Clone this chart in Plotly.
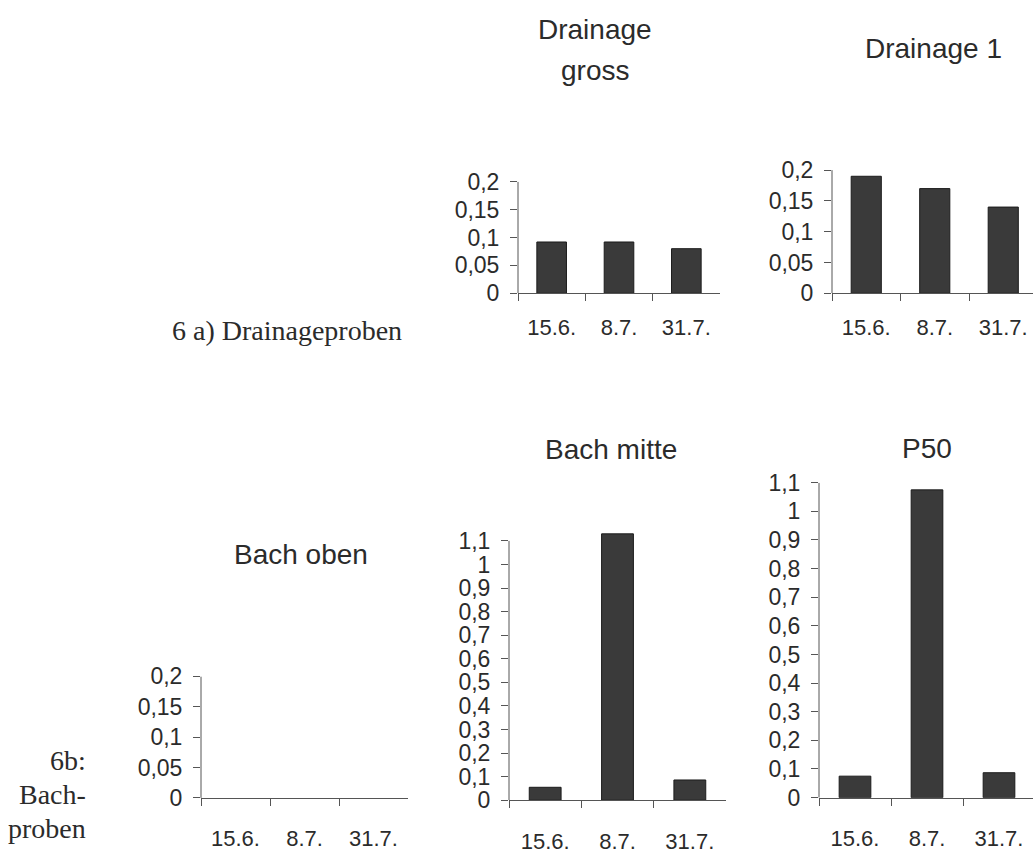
import plotly.graph_objects as go

W, H = 1033, 863

# ---- data ----
dates = ["15.6.", "8.7.", "31.7."]
drainage_gross = [0.092, 0.092, 0.080]
drainage_1 = [0.19, 0.17, 0.14]
bach_oben = [None, None, None]
bach_mitte = [0.055, 1.13, 0.086]
p50 = [0.075, 1.075, 0.087]

ticks_small = [0, 0.05, 0.1, 0.15, 0.2]
labels_small = ["0", "0,05", "0,1", "0,15", "0,2"]
ticks_large = [0, 0.1, 0.2, 0.3, 0.4, 0.5, 0.6, 0.7, 0.8, 0.9, 1.0, 1.1]
labels_large = ["0", "0,1", "0,2", "0,3", "0,4", "0,5", "0,6", "0,7", "0,8", "0,9", "1", "1,1"]

titles = ["Drainage", "gross", "Drainage 1", "Bach oben", "Bach mitte", "P50"]
side_a = "6 a) Drainageproben"
side_b = ["6b:", "Bach-", "proben"]

SANS = "Liberation Sans, Arial, sans-serif"
SERIF = "Liberation Serif, Times New Roman, serif"
TXT = "#2b2b2b"
AX = "#555555"
BAR_FILL = "#3a3a3a"
BAR_LINE = "#1c1c1c"


def px_x(v):
    return v / W


def px_y(v):
    return 1 - v / H


# panels: values, ticks, labels, x0px, x1px, y-of-axis-top px, y-of-zero px,
#         axis top value, range top value, x range end, x label standoff
panels = [
    (drainage_gross, ticks_small, labels_small, 518, 720, 174, 289, 0.2, 0.2, 2.5, 14),
    (drainage_1, ticks_small, labels_small, 832, 1033, 162, 289, 0.2, 0.2, -0.5 + 201 / 68.5, 14),
    (bach_oben, ticks_small, labels_small, 201, 408, 684, 809.3, 0.2, 0.2, 2.5, 21),
    (bach_mitte, ticks_large, labels_large, 509, 726, 544.3, 811.7, 1.1, 1.15, 2.5, 21),
    (p50, ticks_large, labels_large, 819, 1033, 484.3, 809, 1.1, 1.1, -0.5 + 214 / 72, 21),
]

fig = go.Figure()
layout = dict(
    width=W, height=H,
    margin=dict(l=0, r=0, t=0, b=0),
    paper_bgcolor="white", plot_bgcolor="white",
    showlegend=False,
    font=dict(family=SANS, color=TXT),
)
shapes = []

for i, (vals, tv, tt, x0, x1, yt, yb, axtop, rtop, xend, stand) in enumerate(panels):
    n = i + 1
    xa = "x" if n == 1 else f"x{n}"
    ya = "y" if n == 1 else f"y{n}"
    fig.add_trace(go.Bar(
        x=dates, y=vals, xaxis=xa, yaxis=ya,
        width=0.44,
        marker=dict(color=BAR_FILL, line=dict(color=BAR_LINE, width=1)),
        hoverinfo="x+y",
    ))
    # pixel scale so that axtop sits at yt and 0 at yb; range may extend above
    scale = (yb - yt) / axtop
    top_px = yb - rtop * scale
    xkey = "xaxis" if n == 1 else f"xaxis{n}"
    ykey = "yaxis" if n == 1 else f"yaxis{n}"
    layout[xkey] = dict(
        domain=[px_x(x0), px_x(x1)],
        anchor=ya,
        type="category",
        range=[-0.5, xend],
        tickson="boundaries",
        ticks="outside", ticklen=7, tickcolor=AX, tickwidth=1,
        showline=True, linecolor=AX, linewidth=1,
        showgrid=False, zeroline=False,
        tickfont=dict(family=SANS, size=22, color=TXT),
        ticklabelstandoff=stand,
        fixedrange=True,
    )
    layout[ykey] = dict(
        domain=[px_y(yb), px_y(top_px)],
        anchor=xa,
        range=[0, rtop],
        tickvals=tv, ticktext=tt,
        ticks="outside", ticklen=7, tickcolor=AX, tickwidth=1,
        showline=False,
        showgrid=False, zeroline=False,
        tickfont=dict(family=SANS, size=23, color=TXT),
        ticklabelstandoff=6,
        fixedrange=True,
    )
    # vertical axis line from 0 up to the top tick only
    shapes.append(dict(
        type="line", xref=f"{xa} domain", yref=ya,
        x0=0, x1=0, y0=0, y1=axtop,
        line=dict(color=AX, width=1), layer="above",
    ))

annotations = []


def ann(text, xpx, ypx, family=SANS, size=28, xanchor="center"):
    annotations.append(dict(
        text=text, x=px_x(xpx), y=px_y(ypx), xref="paper", yref="paper",
        xanchor=xanchor, yanchor="middle", showarrow=False,
        font=dict(family=family, size=size, color=TXT),
    ))


ann(titles[0], 595, 17)
ann(titles[1], 595, 59)
ann(titles[2], 933, 37)
ann(titles[3], 301, 558)
ann(titles[4], 611, 450)
ann(titles[5], 927, 449)
ann(side_a, 170, 327, family=SERIF, xanchor="left")
ann(side_b[0], 88, 771, family=SERIF, xanchor="right")
ann(side_b[1], 88, 806, family=SERIF, xanchor="right")
ann(side_b[2], 88, 841, family=SERIF, xanchor="right")

layout["annotations"] = annotations
layout["shapes"] = shapes
fig.update_layout(**layout)
fig.write_html("out.html")
